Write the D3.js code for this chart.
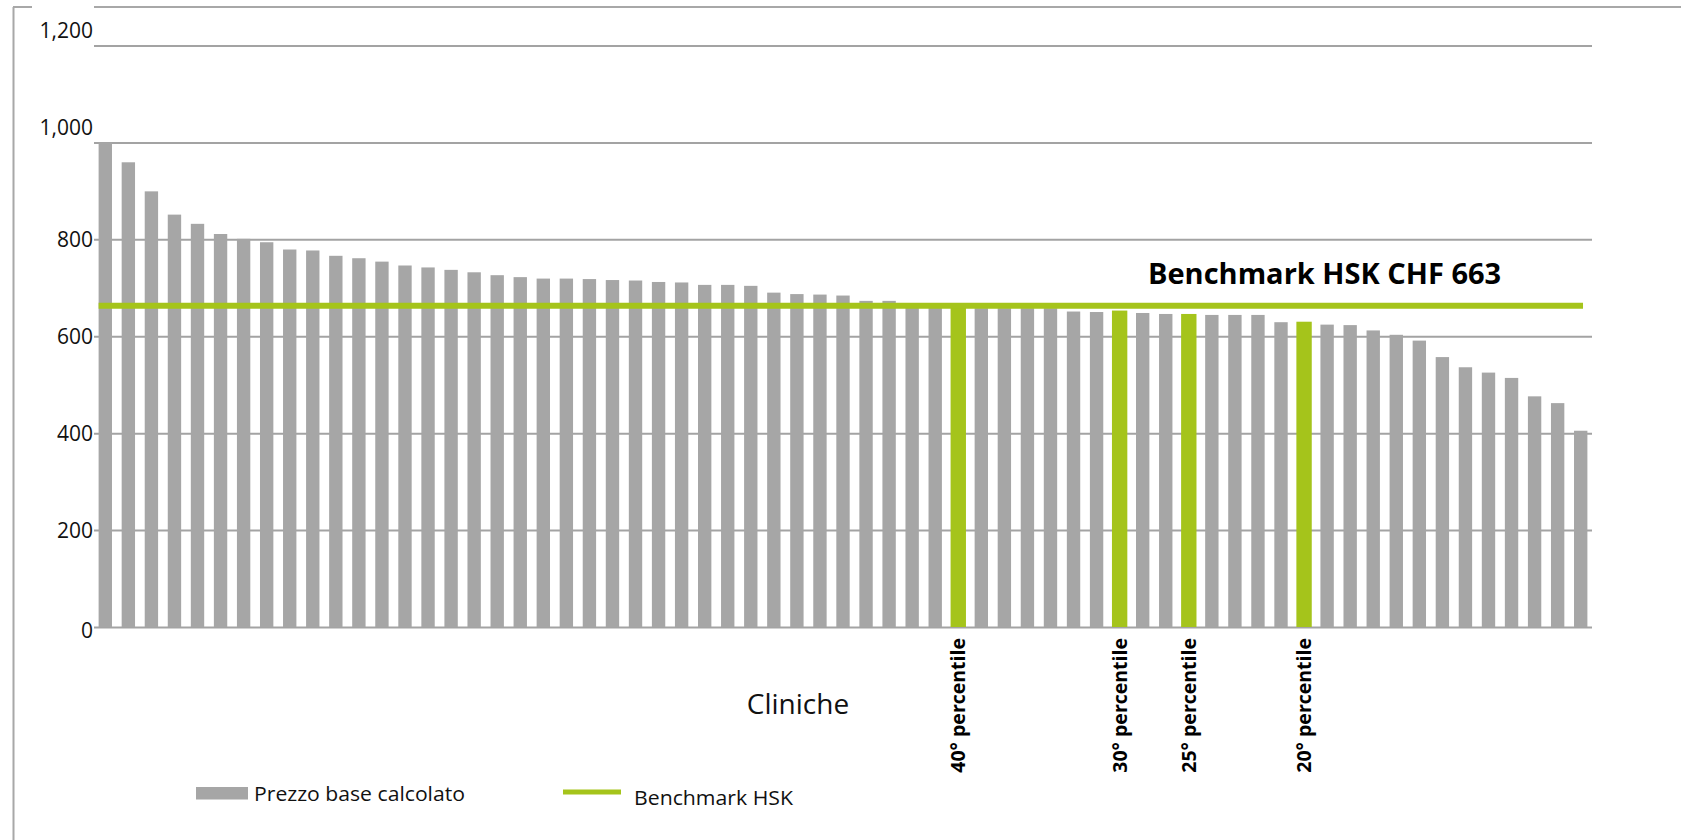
<!DOCTYPE html>
<html>
  <head>
    <meta charset="utf-8">
    <script src="https://d3js.org/d3.v7.min.js"></script>
    <style>
      body {margin: 0; background: #fff;}
      svg {display: block; font-family: "Open Sans", sans-serif;}
      .grid line {stroke: #a3a3a3; stroke-width: 2;}
      .grid path {display: none;}
      .ylab text {font-size: 21px; fill: #111;}
    </style>
  </head>
  <body>
    <svg class="chart" width="1681" height="840"></svg>
  </body>
  <script>
    // prezzo base calcolato per clinica (ordinato decrescente)
    var prezzi = [1000, 959, 899, 851, 832, 811, 801, 794, 779, 777, 766, 761, 754, 746, 742, 737,
                  732, 726, 722, 719, 719, 718, 716, 715, 712, 711, 706, 706, 704, 690, 687, 686,
                  684, 673, 673, 662, 661, 660, 658, 658, 658, 658, 651, 650, 653, 648, 646, 646,
                  644, 644, 644, 629, 630, 624, 623, 612, 603, 591, 557, 536, 525, 514, 476, 462, 405];
    var benchmark = 663;
    var percentiliIdx = [37, 44, 47, 52];
    var percentiliLab = ["40° percentile", "30° percentile", "25° percentile", "20° percentile"];
    var yTicks = [0, 200, 400, 600, 800, 1000, 1200];

    var grigio = "#a6a6a6";
    var verde = "#a5c41b";

    var svg = d3.select(".chart");

    var x = d3.scaleBand()
              .domain(d3.range(prezzi.length))
              .range([94, 1592])
              .paddingInner(0.42)
              .paddingOuter(0.2);
    var y = d3.scaleLinear()
              .domain([0, 1200])
              .range([627, 45.5]);

    // cornice
    svg.append("line").attr("x1", 13.5).attr("x2", 13.5).attr("y1", 7).attr("y2", 840)
       .attr("stroke", "#a8a8a8").attr("stroke-width", 2);
    svg.append("line").attr("x1", 13).attr("x2", 32).attr("y1", 7).attr("y2", 7)
       .attr("stroke", "#a8a8a8").attr("stroke-width", 2);
    svg.append("line").attr("x1", 94).attr("x2", 1681).attr("y1", 7).attr("y2", 7)
       .attr("stroke", "#a8a8a8").attr("stroke-width", 2);

    // griglia
    svg.append("g")
       .attr("class", "grid")
       .attr("transform", "translate(94,0)")
       .call(d3.axisRight(y).tickValues(yTicks).tickSize(1592 - 94).tickFormat(""));

    svg.append("g")
       .attr("class", "ylab")
       .selectAll("text").data(yTicks).enter().append("text")
       .attr("x", 93)
       .attr("y", function(d) { return y(d); })
       .attr("dy", function(d) { return d >= 1000 ? "-0.36em" : (d == 0 ? "0.5em" : "0.36em"); })
       .attr("text-anchor", "end")
       .text(function(d) { return d3.format(",")(d); });

    // barre
    svg.append("g").selectAll("rect")
       .data(prezzi).enter().append("rect")
       .attr("x", function(d, i) { return percentiliIdx.indexOf(i) >= 0 ? x(i) - 1 : x(i); })
       .attr("width", function(d, i) { return percentiliIdx.indexOf(i) >= 0 ? x.bandwidth() + 2 : x.bandwidth(); })
       .attr("y", function(d) { return y(d); })
       .attr("height", function(d) { return y(0) - y(d); })
       .attr("fill", function(d, i) { return percentiliIdx.indexOf(i) >= 0 ? verde : grigio; });

    // linea benchmark
    svg.append("line")
       .attr("x1", x(0))
       .attr("x2", x(prezzi.length - 1) + 9)
       .attr("y1", y(benchmark))
       .attr("y2", y(benchmark))
       .attr("stroke", verde)
       .attr("stroke-width", 6);

    svg.append("text")
       .attr("x", 1148)
       .attr("y", 284)
       .attr("font-size", 29)
       .attr("font-weight", "bold")
       .attr("fill", "#000")
       .text("Benchmark HSK CHF " + benchmark);

    // etichette percentili
    svg.append("g").selectAll("text")
       .data(percentiliIdx).enter().append("text")
       .attr("transform", function(d) { return "translate(" + (x(d) + x.bandwidth() / 2) + ",638) rotate(-90)"; })
       .attr("dy", "0.36em")
       .attr("text-anchor", "end")
       .attr("font-size", 19.5)
       .attr("font-weight", "bold")
       .attr("fill", "#000")
       .text(function(d, i) { return percentiliLab[i]; });

    svg.append("text")
       .attr("x", 798)
       .attr("y", 714)
       .attr("text-anchor", "middle")
       .attr("font-size", 28)
       .attr("fill", "#111")
       .text("Cliniche");

    // legenda
    svg.append("rect").attr("x", 196).attr("y", 787).attr("width", 52).attr("height", 12.5).attr("fill", grigio);
    svg.append("text").attr("x", 254).attr("y", 801).attr("font-size", 20.5)
       .attr("textLength", 211).attr("lengthAdjust", "spacingAndGlyphs")
       .attr("fill", "#111").text("Prezzo base calcolato");
    svg.append("line").attr("x1", 563).attr("x2", 621).attr("y1", 792).attr("y2", 792)
       .attr("stroke", verde).attr("stroke-width", 5);
    svg.append("text").attr("x", 634).attr("y", 805).attr("font-size", 20.5)
       .attr("textLength", 159).attr("lengthAdjust", "spacingAndGlyphs")
       .attr("fill", "#111").text("Benchmark HSK");
  </script>
</html>
